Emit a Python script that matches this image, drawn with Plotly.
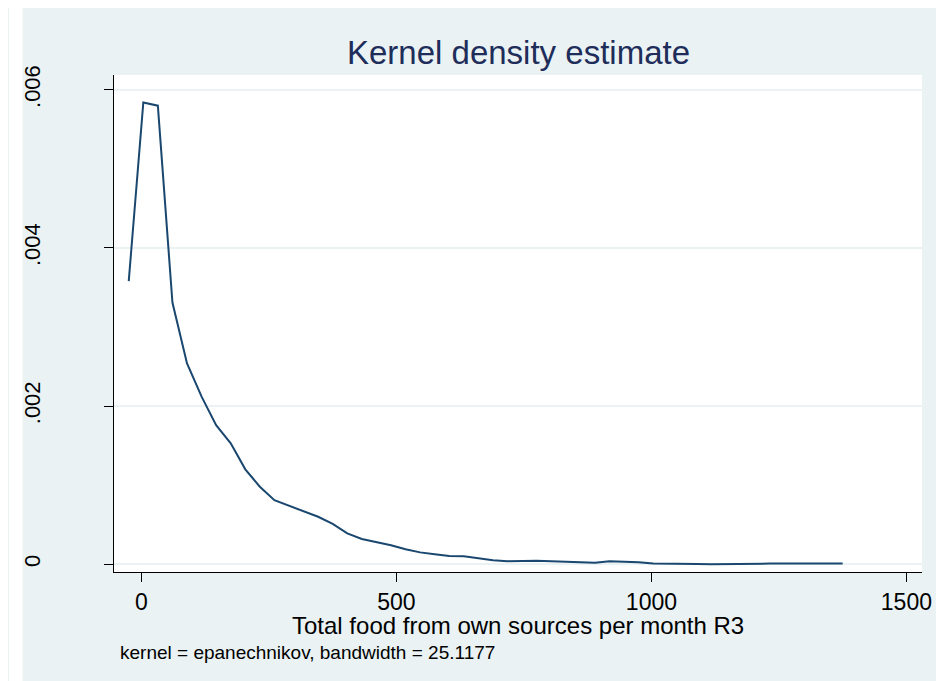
# Kernel density estimate - Stata style kdensity chart #
import plotly.graph_objects as go

# Data #
x_grid = [-25, 3.6, 32.1, 60.7, 89.3, 117.9, 146.4, 175, 203.6, 232.1,
          260.7, 289.3, 317.9, 346.4, 375, 403.6, 432.1, 460.7, 489.3, 517.9,
          546.4, 575, 603.6, 632.1, 660.7, 689.3, 717.9, 746.4, 775, 803.6,
          832.1, 860.7, 889.3, 917.9, 946.4, 975, 1003.6, 1032.1, 1060.7, 1089.3,
          1117.9, 1146.4, 1175, 1203.6, 1232.1, 1260.7, 1289.3, 1317.9, 1346.4, 1375]

density = [0.00358, 0.00584, 0.00580, 0.00331, 0.00254, 0.00212, 0.00176, 0.00153, 0.00120, 0.00098,
           0.00081, 0.00074, 0.00066, 0.00060, 0.00051, 0.00039, 0.00032, 0.00028, 0.00024, 0.00019,
           0.00015, 0.000125, 0.000103, 0.000100, 0.000077, 0.000051, 0.000039, 0.000045, 0.000045, 0.000039,
           0.000031, 0.000026, 0.000018, 0.000039, 0.000036, 0.000026, 0.000010, 0.000010, 0.000006, 0.000002,
           0.000000, 0.000004, 0.000008, 0.000008, 0.000008, 0.000008, 0.000008, 0.000008, 0.000008, 0.000008]

x_ticks = [0, 500, 1000, 1500]
x_tick_labels = ["0", "500", "1000", "1500"]
y_ticks = [0, 0.002, 0.004, 0.006]
y_tick_labels = ["0", ".002", ".004", ".006"]

# Colours #
bg_color = "#EAF2F3"
line_color = "#1A476F"
title_color = "#1E2D5A"
font_family = "Liberation Sans, Arial, sans-serif"

# Figure Initiation #
fig = go.Figure()

fig.add_trace(go.Scatter(x=x_grid,
                         y=density,
                         mode="lines",
                         line=dict(color=line_color, width=2),
                         hovertemplate="x: %{x}<br>density: %{y}<extra></extra>"))

# Figure Layout #
# page has an 8px body margin, plot area in figure pixels: x 98..921, y 67..564
fig.update_layout(width=936,
                  height=673,
                  margin=dict(l=98, r=15, t=67, b=109),
                  paper_bgcolor=bg_color,
                  plot_bgcolor="white",
                  showlegend=False,
                  font=dict(family=font_family, color="black"))

# thin white strip on the left of the outer background #
fig.add_shape(type="rect", xref="paper", yref="paper",
              x0=-0.13, x1=-0.1130, y0=-0.25, y1=1.2,
              fillcolor="white", line=dict(width=0), layer="below")

# Title and texts #
fig.add_annotation(text="Kernel density estimate",
                   xref="paper", yref="paper", x=0.5, y=1.0443,
                   xanchor="center", yanchor="middle", showarrow=False,
                   font=dict(size=33, color=title_color, family=font_family))
fig.add_annotation(text="Total food from own sources per month R3",
                   xref="paper", yref="paper", x=0.5, y=-0.1075,
                   xanchor="center", yanchor="middle", showarrow=False,
                   font=dict(size=24, color="black", family=font_family))
fig.add_annotation(text="kernel = epanechnikov, bandwidth = 25.1177",
                   xref="paper", yref="paper", x=0.0049, y=-0.161,
                   xanchor="left", yanchor="middle", showarrow=False,
                   font=dict(size=19, color="black", family=font_family))

# X-Axis Styles #
fig.update_xaxes(range=[-53.9, 1530.6],
                 tickvals=x_ticks,
                 ticktext=x_tick_labels,
                 ticks="outside", ticklen=9, tickcolor="black", tickwidth=1,
                 tickfont=dict(size=23),
                 ticklabelstandoff=0,
                 showline=True, linecolor="black", linewidth=1,
                 showgrid=False, zeroline=False)

# Y-Axis Styles #
fig.update_yaxes(range=[-0.0000983, 0.006188],
                 tickvals=y_ticks,
                 ticktext=y_tick_labels,
                 tickangle=-90,
                 ticks="outside", ticklen=9, tickcolor="black", tickwidth=1,
                 tickfont=dict(size=22),
                 ticklabelstandoff=55,
                 showline=True, linecolor="black", linewidth=1,
                 showgrid=True, gridcolor=bg_color, gridwidth=2,
                 zeroline=False)

fig.write_html("out.html")
